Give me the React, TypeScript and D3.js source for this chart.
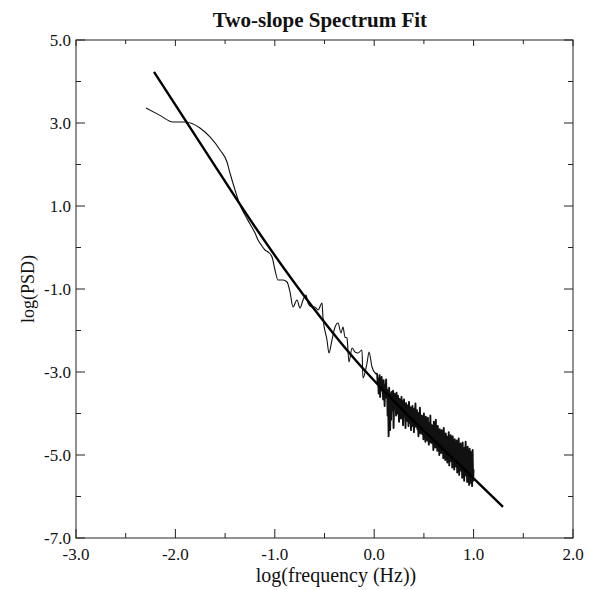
import React from "react";
import * as d3 from "d3";

const W = 590;
const H = 590;
const PLOT = { left: 76, right: 573, top: 40, bottom: 538 };

const TITLE = "Two-slope Spectrum Fit";
const X_TITLE = "log(frequency (Hz))";
const Y_TITLE = "log(PSD)";

const X_DOMAIN = [-3, 2];
const Y_DOMAIN = [-7, 5];
const X_MAJOR = [-3, -2, -1, 0, 1, 2];
const X_MINOR = [-2.5, -1.5, -0.5, 0.5, 1.5];
const Y_MAJOR = [5, 3, 1, -1, -3, -5, -7];
const Y_MINOR = [4, 2, 0, -2, -4, -6];

// low-frequency (smooth / moderately noisy) part of the spectrum
const SPEC_LOW_X = [
  -2.296, -2.16, -2.024, -1.903, -1.753, -1.652, -1.551, -1.481, -1.451, -1.4,
  -1.35, -1.3, -1.249, -1.199, -1.169, -1.129, -1.099, -1.068, -1.028, -0.998,
  -0.968, -0.918, -0.877, -0.847, -0.817, -0.777, -0.746, -0.716, -0.686, -0.666,
  -0.626, -0.596, -0.565, -0.525, -0.515, -0.475, -0.455, -0.425, -0.394, -0.364,
  -0.334, -0.314, -0.294, -0.274, -0.254, -0.223, -0.193, -0.163, -0.123, -0.113,
  -0.072, -0.052, -0.022, 0.008,
];
const SPEC_LOW_Y = [
  3.361, 3.19, 3.024, 3.024, 2.88, 2.663, 2.349, 2.06, 1.795, 1.386,
  1.024, 0.783, 0.566, 0.349, 0.181, 0.036, -0.06, -0.108, -0.229, -0.542,
  -0.783, -0.783, -0.831, -1.072, -1.434, -1.265, -1.458, -1.265, -1.145, -1.337,
  -1.434, -1.434, -1.506, -1.337, -1.699, -2.229, -2.542, -2.229, -1.916, -1.819,
  -2.06, -1.916, -2.157, -2.181, -2.759, -2.422, -2.518, -2.542, -2.47, -3.145,
  -2.783, -2.518, -2.88, -3.024,
];

// high-frequency (dense, noisy) part: log f from 0.03 in steps of 0.005
const SPEC_HIGH_X0 = 0.03;
const SPEC_HIGH_DX = 0.005;
const SPEC_HIGH_Y = [
  -3.05, -3.3, -3.15, -3.52, -3.38, -3.08, -3.6, -3.22, -3.45, -3.12,
  -3.4, -3.28, -3.66, -3.2, -3.48, -3.82, -3.3, -3.55, -3.18, -3.62,
  -3.42, -4.05, -3.5, -4.55, -3.38, -3.7, -4.4, -3.52, -4.15, -3.48,
  -3.6, -3.92, -3.45, -4.35, -3.7, -3.52, -3.88, -3.62, -4.05, -3.5,
  -3.72, -4.0, -3.58, -3.85, -4.2, -3.65, -3.95, -3.78, -4.12, -3.6,
  -3.98, -3.7, -4.28, -3.82, -3.66, -4.05, -3.9, -4.35, -3.75, -4.02,
  -3.8, -4.18, -3.92, -4.3, -3.72, -4.05, -4.22, -3.85, -4.4, -3.95,
  -4.12, -3.82, -4.3, -3.95, -4.45, -3.88, -4.15, -3.76, -4.32, -4.02,
  -3.92, -4.38, -4.1, -4.55, -3.98, -4.25, -3.86, -4.48, -4.12, -4.3,
  -4.05, -4.5, -4.18, -4.62, -4.0, -4.35, -4.22, -4.68, -4.08, -4.42,
  -4.2, -4.65, -4.1, -4.5, -4.75, -4.22, -4.58, -4.05, -4.7, -4.35,
  -4.28, -4.72, -4.4, -4.88, -4.2, -4.6, -4.35, -4.82, -4.15, -4.68,
  -4.45, -4.9, -4.3, -4.75, -4.55, -5.0, -4.38, -4.82, -4.62, -4.95,
  -4.4, -4.85, -4.58, -5.08, -4.35, -4.92, -4.7, -5.12, -4.48, -4.98,
  -4.55, -5.18, -4.62, -4.95, -4.45, -5.25, -4.75, -5.05, -4.52, -5.15,
  -4.7, -5.3, -4.55, -5.1, -4.85, -5.35, -4.62, -5.2, -4.78, -5.28,
  -4.65, -5.42, -4.82, -5.25, -4.6, -5.48, -4.9, -5.32, -4.72, -5.38,
  -4.78, -5.55, -4.7, -5.4, -4.95, -5.62, -4.82, -5.28, -4.68, -5.5,
  -4.88, -5.65, -4.8, -5.45, -5.0, -5.72, -4.85, -5.55, -4.92, -5.68,
  -4.95, -5.75, -4.88, -5.62, -5.35,
];

// two-slope fit curve
const FIT_X = [-2.215, -1.7, -1.2, -0.7, -0.2, 0.3, 0.8, 1.296];
const FIT_Y = [4.23, 2.33, 0.5, -1.18, -2.68, -3.95, -5.1, -6.25];

const FONT = "'Liberation Serif', 'Times New Roman', Times, serif";
const fmt = (v: number) => v.toFixed(1);

export default function App() {
  const x = d3.scaleLinear().domain(X_DOMAIN).range([PLOT.left, PLOT.right]);
  const y = d3.scaleLinear().domain(Y_DOMAIN).range([PLOT.bottom, PLOT.top]);

  const low: [number, number][] = SPEC_LOW_X.map((v, i) => [v, SPEC_LOW_Y[i]]);
  const high: [number, number][] = SPEC_HIGH_Y.map((v, i) => [
    SPEC_HIGH_X0 + i * SPEC_HIGH_DX,
    v,
  ]);
  const fit: [number, number][] = FIT_X.map((v, i) => [v, FIT_Y[i]]);

  const smoothLine = d3
    .line<[number, number]>()
    .x((d) => x(d[0]))
    .y((d) => y(d[1]))
    .curve(d3.curveMonotoneX);
  const rawLine = d3
    .line<[number, number]>()
    .x((d) => x(d[0]))
    .y((d) => y(d[1]));

  const MAJ = 9;
  const MIN = 5;
  const axisColor = "#222";

  return (
    <svg
      width={W}
      height={H}
      style={{ position: "absolute", left: 0, top: 0, background: "#fff" }}
    >
      <rect x={0} y={0} width={W} height={H} fill="#fff" />
      <text
        x={320}
        y={27}
        textAnchor="middle"
        fontFamily={FONT}
        fontWeight="bold"
        fontSize={21}
        fill="#111"
      >
        {TITLE}
      </text>

      {/* frame */}
      <rect
        x={PLOT.left}
        y={PLOT.top}
        width={PLOT.right - PLOT.left}
        height={PLOT.bottom - PLOT.top}
        fill="none"
        stroke={axisColor}
        strokeWidth={1}
      />

      {/* x ticks */}
      {X_MAJOR.map((v) => (
        <g key={"xm" + v}>
          <line x1={x(v)} x2={x(v)} y1={PLOT.bottom} y2={PLOT.bottom - MAJ} stroke={axisColor} />
          <line x1={x(v)} x2={x(v)} y1={PLOT.top} y2={PLOT.top + MAJ - 3} stroke={axisColor} />
          <text
            x={x(v)}
            y={560}
            textAnchor="middle"
            fontFamily={FONT}
            fontSize={17}
            fill="#111"
          >
            {fmt(v)}
          </text>
        </g>
      ))}
      {X_MINOR.map((v) => (
        <g key={"xn" + v}>
          <line x1={x(v)} x2={x(v)} y1={PLOT.bottom} y2={PLOT.bottom - MIN} stroke={axisColor} />
          <line x1={x(v)} x2={x(v)} y1={PLOT.top} y2={PLOT.top + MIN - 1} stroke={axisColor} />
        </g>
      ))}

      {/* y ticks */}
      {Y_MAJOR.map((v) => (
        <g key={"ym" + v}>
          <line x1={PLOT.left} x2={PLOT.left + MAJ} y1={y(v)} y2={y(v)} stroke={axisColor} />
          <line x1={PLOT.right} x2={PLOT.right - MAJ} y1={y(v)} y2={y(v)} stroke={axisColor} />
          <text
            x={71}
            y={y(v) + 6}
            textAnchor="end"
            fontFamily={FONT}
            fontSize={17}
            fill="#111"
          >
            {fmt(v)}
          </text>
        </g>
      ))}
      {Y_MINOR.map((v) => (
        <g key={"yn" + v}>
          <line x1={PLOT.left} x2={PLOT.left + MIN} y1={y(v)} y2={y(v)} stroke={axisColor} />
          <line x1={PLOT.right} x2={PLOT.right - MIN} y1={y(v)} y2={y(v)} stroke={axisColor} />
        </g>
      ))}

      {/* axis titles */}
      <text
        x={336}
        y={582}
        textAnchor="middle"
        fontFamily={FONT}
        fontSize={20}
        fill="#111"
      >
        {X_TITLE}
      </text>
      <text
        transform={`translate(34, 289) rotate(-90)`}
        textAnchor="middle"
        fontFamily={FONT}
        fontSize={18}
        fill="#111"
      >
        {Y_TITLE}
      </text>

      {/* data */}
      <path d={smoothLine(low) || ""} fill="none" stroke="#111" strokeWidth={1.1} />
      <path
        d={rawLine([low[low.length - 1], ...high]) || ""}
        fill="none"
        stroke="#111"
        strokeWidth={1.9}
        strokeLinejoin="round"
      />
      <path d={smoothLine(fit) || ""} fill="none" stroke="#000" strokeWidth={2.4} />
    </svg>
  );
}
